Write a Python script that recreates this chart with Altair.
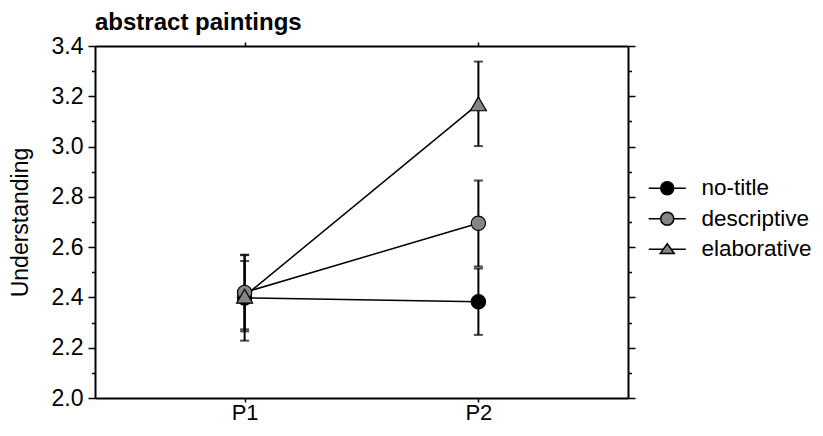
import altair as alt
import pandas as pd

# ---------------- data ----------------
conditions = ["no-title", "descriptive", "elaborative"]
periods = ["P1", "P2"]

notitle_mean = [2.398, 2.383]
notitle_lo = [2.228, 2.251]
notitle_hi = [2.568, 2.515]

desc_mean = [2.420, 2.695]
desc_lo = [2.273, 2.523]
desc_hi = [2.570, 2.865]

elab_mean = [2.405, 3.170]
elab_lo = [2.265, 3.002]
elab_hi = [2.545, 3.338]

y_tick_values = [2.0, 2.1, 2.2, 2.3, 2.4, 2.5, 2.6, 2.7, 2.8, 2.9,
                 3.0, 3.1, 3.2, 3.3, 3.4]

# ---------------- styles ----------------
FONT = "Liberation Sans"
FS = 23
marker_fills = ["#000000", "#858585", "#858585"]
marker_strokes = ["#000000", "#000000", "#000000"]
legend_paths = [
    "M-2.85,0H-1M1,0H2.85M1,0A1,1,0,1,1,-1,0A1,1,0,1,1,1,0Z",
    "M-2.85,0H-1M1,0H2.85M1,0A1,1,0,1,1,-1,0A1,1,0,1,1,1,0Z",
    "M-2.85,0H-0.61M0.61,0H2.85M0,-0.85L1.08,0.65L-1.08,0.65Z",
]

rows = []
for cond, m, lo, hi in [
    ("no-title", notitle_mean, notitle_lo, notitle_hi),
    ("descriptive", desc_mean, desc_lo, desc_hi),
    ("elaborative", elab_mean, elab_lo, elab_hi),
]:
    for i, p in enumerate(periods):
        rows.append({"condition": cond, "period": p, "mean": m[i], "lo": lo[i], "hi": hi[i]})
df = pd.DataFrame(rows)

major_test = "abs(round(datum.value*10) % 2) < 0.5"

x_scale = alt.Scale(type="point", domain=periods, padding=0.64)
y_scale = alt.Scale(domain=[2.0, 3.4], nice=False, zero=False)

x_axis_bottom = alt.Axis(orient="bottom", title=None, labelFontSize=22, labelFont=FONT,
                         labelColor="black", tickSize=4, tickWidth=1.5, labelPadding=0,
                         domainWidth=2, domainColor="black", tickColor="black", grid=False,
                         labelAngle=0)
y_axis_left = alt.Axis(orient="left", title="Understanding", titleFontSize=FS, titleFont=FONT,
                       titleFontWeight="normal", titleColor="black", titlePadding=19,
                       values=y_tick_values,
                       labelExpr=f"({major_test}) ? format(datum.value, '.1f') : ''",
                       labelFontSize=FS, labelFont=FONT, labelColor="black", labelPadding=5,
                       tickSize={"condition": {"test": major_test, "value": 7}, "value": 3.5},
                       tickWidth=1.5, tickColor="black", domainWidth=2, domainColor="black",
                       grid=False)

x_enc = alt.X("period:N", scale=x_scale, axis=x_axis_bottom, sort=periods)
y_enc_mean = alt.Y("mean:Q", scale=y_scale, axis=y_axis_left)

legend = alt.Legend(title=None, orient="none", legendX=561, legendY=131,
                    symbolSize=169, symbolStrokeWidth=1.5, symbolStrokeColor="black",
                    symbolOpacity=1, labelFontSize=22.5, labelFont=FONT, labelColor="black",
                    labelOffset=23, rowPadding=7.5)

fill_scale = alt.Scale(domain=conditions, range=marker_fills)
fill_enc = alt.Fill("condition:N", scale=fill_scale, legend=legend)

base = alt.Chart(df)

err_rule = base.mark_rule(color="black", strokeWidth=2).encode(
    x=x_enc, y=alt.Y("lo:Q", scale=y_scale, axis=y_axis_left), y2="hi:Q")
cap_lo = base.mark_tick(color="black", size=9, thickness=2).encode(
    x=x_enc, y=alt.Y("lo:Q", scale=y_scale, axis=y_axis_left))
cap_hi = base.mark_tick(color="black", size=9, thickness=2).encode(
    x=x_enc, y=alt.Y("hi:Q", scale=y_scale, axis=y_axis_left))
lines = base.mark_line(color="black", strokeWidth=1.5).encode(
    x=x_enc, y=y_enc_mean, detail="condition:N")
circles = base.transform_filter(
    alt.FieldOneOfPredicate(field="condition", oneOf=conditions[:2])
).mark_point(filled=True, shape="circle", size=205, stroke="black", strokeWidth=1.2,
             opacity=1).encode(x=x_enc, y=y_enc_mean, fill=fill_enc)
triangles = base.transform_filter(
    alt.FieldEqualPredicate(field="condition", equal=conditions[2])
).mark_point(filled=True, shape="triangle-up", size=256, stroke="black", strokeWidth=1.2,
             opacity=1).encode(x=x_enc, y=y_enc_mean, fill=fill_enc)

main = alt.layer(err_rule, cap_lo, cap_hi, lines, circles, triangles)

frame = base.mark_point(filled=True, opacity=0, strokeWidth=1.5).encode(
    x=alt.X("period:N", scale=x_scale, sort=periods,
            axis=alt.Axis(orient="top", title=None, labels=False, tickSize=4, tickWidth=1.5,
                          tickColor="black", domainWidth=2, domainColor="black", grid=False)),
    y=alt.Y("mean:Q", scale=y_scale,
            axis=alt.Axis(orient="right", title=None, labels=False, values=y_tick_values,
                          tickSize={"condition": {"test": major_test, "value": 7}, "value": 3.5},
                          tickWidth=1.5, tickColor="black", domainWidth=2, domainColor="black",
                          grid=False)),
    fill=fill_enc,
    stroke=alt.Stroke("condition:N", scale=alt.Scale(domain=conditions, range=marker_strokes),
                      legend=legend),
    shape=alt.Shape("condition:N", scale=alt.Scale(domain=conditions, range=legend_paths), legend=legend),
)

chart = alt.layer(frame, main).resolve_axis(x="independent", y="independent").properties(
    width=533, height=352,
    title=alt.TitleParams("abstract paintings", anchor="start", frame="group", fontSize=24,
                          font=FONT, fontWeight="bold", color="black", offset=0),
    autosize=alt.AutoSizeParams(type="none"),
    padding={"left": 87, "top": 38, "right": 187, "bottom": 26},
).configure_view(stroke=None)

chart.save("out.html", embed_options={"renderer": "svg", "actions": False})
